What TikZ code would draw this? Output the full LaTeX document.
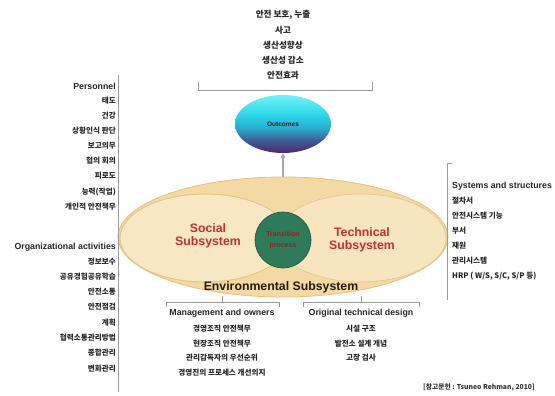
\documentclass[tikz,border=0pt]{standalone}
\usepackage{fontspec}
\setmainfont{Liberation Sans}
\newfontfamily\kr{Noto Sans CJK KR}
\usetikzlibrary{shapes.geometric,arrows.meta}
\definecolor{envfill}{HTML}{F3D9A4}
\definecolor{envline}{HTML}{E6C17E}
\definecolor{lobefill}{HTML}{F7E7C3}
\definecolor{lobeline}{HTML}{E2C488}
\definecolor{corefill}{HTML}{2F7A58}
\definecolor{subred}{HTML}{C8302C}
\definecolor{corered}{HTML}{9A1E22}
\definecolor{brack}{HTML}{9A9A9A}
\definecolor{oA}{RGB}{75,44,110}
\definecolor{oB}{RGB}{62,92,150}
\definecolor{oC}{RGB}{40,170,205}
\definecolor{oD}{RGB}{45,215,232}
\definecolor{oE}{RGB}{110,240,246}
\pgfdeclareverticalshading{outshade}{100bp}{
  color(0bp)=(oA);
  color(26bp)=(oA);
  color(36bp)=(oB);
  color(46bp)=(oC);
  color(58bp)=(oD);
  color(74bp)=(oE);
  color(100bp)=(oE)
}
\tikzset{
  item/.style={font=\kr\bfseries\fontsize{7.6}{8}\selectfont, inner sep=0pt, text=black!85},
  topitem/.style={font=\kr\bfseries\fontsize{8.6}{9}\selectfont, inner sep=0pt, text=black!85},
  head/.style={font=\bfseries\fontsize{8.8}{9}\selectfont, inner sep=0pt, text=black!85},
  subsys/.style={font=\bfseries\fontsize{12.3}{13.5}\selectfont, text=subred, align=center, inner sep=0pt},
  bracket/.style={draw=brack, line width=0.6pt},
}
\begin{document}
\begin{tikzpicture}[x=1pt,y=-1pt]
\useasboundingbox (0,0) rectangle (555,396);
% environmental ellipse
\node[ellipse, draw=envline, fill=envfill, line width=0.8pt, minimum width=330, minimum height=120, inner sep=0pt] (env) at (283,237) {};
% lobes
\draw[lobeline, fill=lobefill, line width=0.6pt] (205,238) ellipse [x radius=85, y radius=44];
\draw[lobeline, fill=lobefill, fill opacity=0.9, line width=0.6pt] (361,238) ellipse [x radius=85, y radius=44];
\draw[lobeline, line width=0.6pt] (205,238) ellipse [x radius=85, y radius=44];
% core circle
\node[circle, fill=corefill, draw=corefill!70!black, line width=0.6pt, minimum size=56, inner sep=0pt, align=center, font=\bfseries\fontsize{7}{11}\selectfont, text=corered] (core) at (283,240) {Transition\\process};
\node[subsys] (social) at (208,236) {Social\\Subsystem};
\node[subsys] (tech) at (362,240) {Technical\\Subsystem};
\node[font=\bfseries\fontsize{12.3}{13}\selectfont, text=black!80!brown, inner sep=0pt] (envlab) at (281,287) {Environmental Subsystem};
% outcomes
\shade[shading=outshade] (283,124) ellipse [x radius=48, y radius=29];
\node[ellipse, minimum width=96, minimum height=58, inner sep=0pt, font=\bfseries\fontsize{6.5}{7}\selectfont, text=black!85] (out) at (283,124) {Outcomes};
\draw[-{Triangle[length=5pt,width=5pt]}, line width=1.6pt, draw=gray!70, fill=gray!70] (env.north) -- (out.south);
% top list
\node[topitem] (t1) at (283,15) {안전 보호, 누출};
\node[topitem] (t2) at (283,30) {사고};
\node[topitem] (t3) at (283,45) {생산성향상};
\node[topitem] (t4) at (283,60) {생산성 감소};
\node[topitem] (t5) at (283,75) {안전효과};
\coordinate (tbl) at (198,82);
\coordinate (tbr) at (372,82);
\draw[bracket] (tbl) -- ++(0,8) -- ([yshift=-8pt]tbr) -- (tbr);
% left lists
\node[head, anchor=east] (pers) at (116,86) {Personnel};
\node[item, anchor=east] (p1) at (116,101) {태도};
\node[item, anchor=east] (p2) at (116,116) {건강};
\node[item, anchor=east] (p3) at (116,131) {상황인식 판단};
\node[item, anchor=east] (p4) at (116,146) {보고의무};
\node[item, anchor=east] (p5) at (116,161) {협의 회의};
\node[item, anchor=east] (p6) at (116,176) {피로도};
\node[item, anchor=east] (p7) at (116,192) {능력(작업)};
\node[item, anchor=east] (p8) at (116,207) {개인적 안전책무};
\node[head, anchor=east] (org) at (116,247) {Organizational activities};
\node[item, anchor=east] (o1) at (116,262) {정보보수};
\node[item, anchor=east] (o2) at (116,277) {공유경험공유학습};
\node[item, anchor=east] (o3) at (116,292) {안전소통};
\node[item, anchor=east] (o4) at (116,307) {안전점검};
\node[item, anchor=east] (o5) at (116,323) {계획};
\node[item, anchor=east] (o6) at (116,338) {협력소통관리방법};
\node[item, anchor=east] (o7) at (116,353) {종합관리};
\node[item, anchor=east] (o8) at (116,369) {변화관리};
\coordinate (lbt) at (118.5,75);
\coordinate (lbb) at (118.5,392);
\draw[bracket] (lbt) -- (lbb);
\draw[bracket] (env.west) -- (118.5,237);
% right list
\node[head, anchor=west] (sys) at (452,186) {Systems and structures};
\node[item, anchor=west] (s1) at (452,201) {절차서};
\node[item, anchor=west] (s2) at (452,216) {안전시스템 기능};
\node[item, anchor=west] (s3) at (452,231) {부서};
\node[item, anchor=west] (s4) at (452,246) {재원};
\node[item, anchor=west] (s5) at (452,261) {관리시스템};
\node[item, anchor=west] (s6) at (452,276) {HRP ( W/S, S/C, S/P 등)};
\coordinate (rbt) at (447,163);
\coordinate (rbb) at (447,300);
\draw[bracket] ([xshift=5pt]rbt) -- (rbt) -- (rbb);
\draw[bracket] (env.east) -- (447,237);
% bottom left
\node[head] (mgmt) at (222,313) {Management and owners};
\node[item] (m1) at (222,329) {경영조직 안전책무};
\node[item] (m2) at (222,344) {현장조직 안전책무};
\node[item] (m3) at (222,358) {관리감독자의 우선순위};
\node[item] (m4) at (222,373) {경영진의 프로세스 개선의지};
\coordinate (mbl) at (166,307);
\coordinate (mbr) at (279,307);
\draw[bracket] (mbl) -- ++(0,-5) -- ([yshift=5pt]mbr) -- (mbr);
\draw[bracket] (222,302) -- (222,296);
% bottom right
\node[head] (orig) at (361,313) {Original technical design};
\node[item] (d1) at (361,329) {시설 구조};
\node[item] (d2) at (361,344) {발전소 설계 개념};
\node[item] (d3) at (361,358) {고장 검사};
\coordinate (dbl) at (303,307);
\coordinate (dbr) at (419,307);
\draw[bracket] (dbl) -- ++(0,-5) -- ([yshift=5pt]dbr) -- (dbr);
\draw[bracket] (361,302) -- (361,296);
% credit
\node[font=\kr\bfseries\fontsize{6.8}{7}\selectfont, inner sep=0pt, text=black!80, anchor=east] (cred) at (535,387) {[참고문헌 : Tsuneo Rehman, 2010]};
\end{tikzpicture}
\end{document}
